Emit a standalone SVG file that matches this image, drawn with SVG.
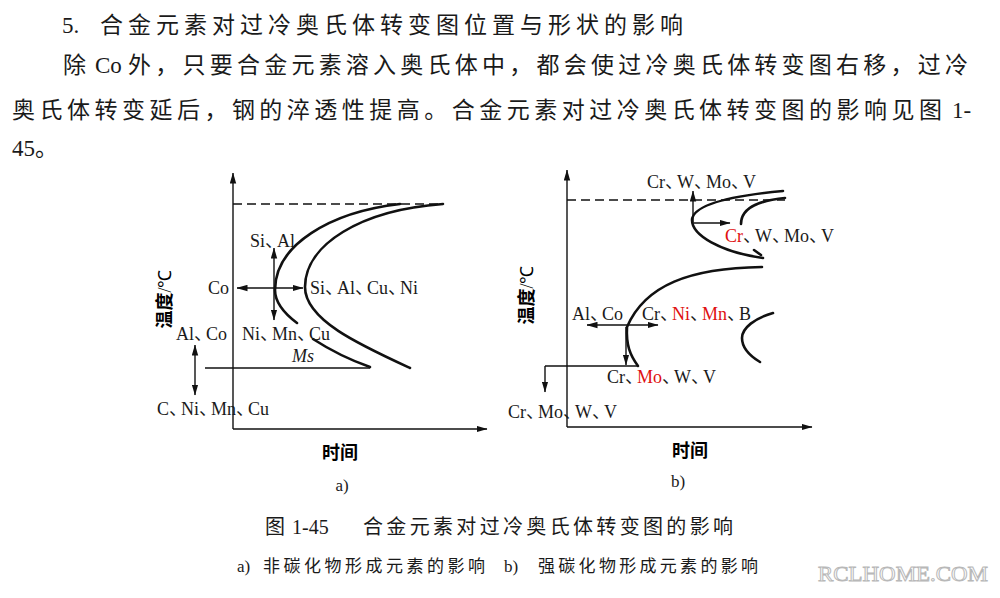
<svg xmlns="http://www.w3.org/2000/svg" width="1000" height="598" viewBox="0 0 1000 598">
<defs>
<marker id="ah" markerWidth="11" markerHeight="7" refX="10.5" refY="3.5" orient="auto-start-reverse" markerUnits="userSpaceOnUse">
<path d="M0,0.3 L11,3.5 L0,6.7 Z" fill="#111"/>
</marker>
<style>
.t{font-family:"Liberation Serif","Noto Sans CJK SC",serif;fill:#1a1a1a}
.body{font-size:23px}
.lab{font-size:18px}
.cm{letter-spacing:-6px}
.red{fill:#e01010}
.hei{font-family:"Noto Sans CJK SC",sans-serif;font-size:18px;font-weight:700}
.ln{fill:none;stroke:#111;stroke-width:1.4}
.cv{fill:none;stroke:#111;stroke-width:2.6;stroke-linecap:round}
.ar{marker-end:url(#ah)}
.dar{marker-start:url(#ah);marker-end:url(#ah)}
.dash{stroke-dasharray:9 5}
.cap{font-size:20px}
.sub{font-size:17px}
</style>
</defs>
<rect width="1000" height="598" fill="#fff"/>

<g id="paragraph">
<text class="t body" x="62" y="33">5.</text>
<text class="t body" x="100" y="33" textLength="583" lengthAdjust="spacing">合金元素对过冷奥氏体转变图位置与形状的影响</text>
<text class="t body" x="63" y="73">除</text>
<text class="t body" x="95" y="73">Co</text>
<text class="t body" x="128" y="73" textLength="840" lengthAdjust="spacing">外，只要合金元素溶入奥氏体中，都会使过冷奥氏体转变图右移，过冷</text>
<text class="t body" x="12" y="118" textLength="930" lengthAdjust="spacing">奥氏体转变延后，钢的淬透性提高。合金元素对过冷奥氏体转变图的影响见图</text>
<text class="t body" x="952" y="118">1-</text>
<text class="t body" x="12" y="156">45。</text>
</g>

<g id="connectors">
<path class="ln ar" d="M233,429 V173"/>
<path class="ln ar" d="M233,429 H487"/>
<path class="ln dash" d="M233,204 H443"/>
<path class="ln" d="M205,368 H370"/>
<path class="ln dar" d="M195,345 V395"/>
<path class="ln dar" d="M274,248 V320"/>
<path class="ln dar" d="M237,288 H303"/>
<path class="ln ar" d="M567,427 V170"/>
<path class="ln ar" d="M567,427 H812"/>
<path class="ln dash" d="M567,200 H785"/>
<path class="ln ar" d="M693,222 V191"/>
<path class="ln ar" d="M693,223 H730"/>
<path class="ln dar" d="M587,325 H658"/>
<path class="ln ar" d="M626,327 V365"/>
<path class="ln" d="M545,366 H638"/>
<path class="ln ar" d="M545,366 V392"/>
</g>

<g id="curves-a">
<path class="cv" d="M400,204 C330,212 275,245 275,290 C275,302 285,314 297,323"/>
<path class="cv" d="M313,339 C330,350 350,360 370,367"/>
<path class="cv" d="M443,204 C360,210 305,245 305,287 C305,320 360,345 410,368"/>
</g>

<g id="curves-b">
<path class="cv" d="M783,191 C730,196 693,205 692,220 C692,235 720,252 763,258"/>
<path class="cv" d="M785,198 C765,200 741,205 741,224"/>
<path class="cv" d="M754,250 L761,255"/>
<path class="cv" d="M762,267 C690,268 645,285 627,327 C626,345 630,355 638,366"/>
<path class="cv" d="M773,313 C755,318 742,328 742,338 C742,348 750,356 760,362"/>
</g>

<g id="labels-a">
<text class="t lab" x="250" y="247">Si<tspan class="cm">、</tspan>Al</text>
<text class="t lab" x="208" y="294">Co</text>
<text class="t lab" x="310" y="294">Si<tspan class="cm">、</tspan>Al<tspan class="cm">、</tspan>Cu<tspan class="cm">、</tspan>Ni</text>
<text class="t lab" x="176" y="340">Al<tspan class="cm">、</tspan>Co</text>
<text class="t lab" x="242" y="340">Ni<tspan class="cm">、</tspan>Mn<tspan class="cm">、</tspan>Cu</text>
<text class="t lab" x="292" y="362" font-style="italic">Ms</text>
<text class="t lab" x="157" y="415">C<tspan class="cm">、</tspan>Ni<tspan class="cm">、</tspan>Mn<tspan class="cm">、</tspan>Cu</text>
<text class="hei" x="340" y="459" text-anchor="middle">时间</text>
<text class="t" font-size="17" x="342" y="491" text-anchor="middle">a)</text>
<text class="hei" transform="translate(171,299) rotate(-90)" text-anchor="middle">温度<tspan font-family="Liberation Serif, serif" font-weight="400">/℃</tspan></text>
</g>

<g id="labels-b">
<text class="t lab" x="647" y="188">Cr<tspan class="cm">、</tspan>W<tspan class="cm">、</tspan>Mo<tspan class="cm">、</tspan>V</text>
<text class="t lab" x="725" y="242"><tspan class="red">Cr</tspan><tspan class="cm">、</tspan>W<tspan class="cm">、</tspan>Mo<tspan class="cm">、</tspan>V</text>
<text class="t lab" x="572" y="320">Al<tspan class="cm">、</tspan>Co</text>
<text class="t lab" x="642" y="320">Cr<tspan class="cm">、</tspan><tspan class="red">Ni</tspan><tspan class="cm">、</tspan><tspan class="red">Mn</tspan><tspan class="cm">、</tspan>B</text>
<text class="t lab" x="607" y="383">Cr<tspan class="cm">、</tspan><tspan class="red">Mo</tspan><tspan class="cm">、</tspan>W<tspan class="cm">、</tspan>V</text>
<text class="t lab" x="508" y="418">Cr<tspan class="cm">、</tspan>Mo<tspan class="cm">、</tspan>W<tspan class="cm">、</tspan>V</text>
<text class="hei" x="690" y="457" text-anchor="middle">时间</text>
<text class="t" font-size="17" x="678" y="487" text-anchor="middle">b)</text>
<text class="hei" transform="translate(533,295) rotate(-90)" text-anchor="middle">温度<tspan font-family="Liberation Serif, serif" font-weight="400">/℃</tspan></text>
</g>

<g id="caption">
<text class="t cap" x="265" y="534">图</text>
<text class="t cap" x="292" y="534">1-45</text>
<text class="t cap" x="363" y="534" textLength="370" lengthAdjust="spacing">合金元素对过冷奥氏体转变图的影响</text>
<text class="t sub" x="237" y="572">a)</text>
<text class="t sub" x="263" y="572" textLength="222" lengthAdjust="spacing">非碳化物形成元素的影响</text>
<text class="t sub" x="504" y="572">b)</text>
<text class="t sub" x="538" y="572" textLength="220" lengthAdjust="spacing">强碳化物形成元素的影响</text>
</g>

<g id="watermark">
<text x="818" y="581" font-family="Liberation Serif, serif" font-size="22" fill="#fff" stroke="#b8b8b8" stroke-width="1" textLength="170" lengthAdjust="spacingAndGlyphs">RCLHOME.COM</text>
</g>
</svg>
